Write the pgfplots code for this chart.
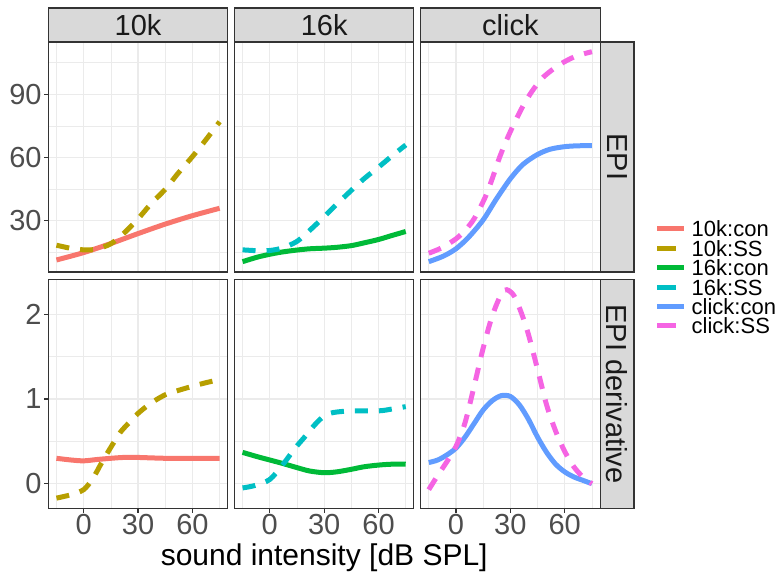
\documentclass[border=0pt]{standalone}
\usepackage{pgfplots}
\pgfplotsset{compat=1.18}
\usepackage{fontspec}
\setmainfont{Liberation Sans}
\definecolor{cA}{HTML}{F8766D}
\definecolor{cB}{HTML}{B79F00}
\definecolor{cC}{HTML}{00BA38}
\definecolor{cD}{HTML}{00BFC4}
\definecolor{cE}{HTML}{619CFF}
\definecolor{cF}{HTML}{F564E3}
\definecolor{g10}{HTML}{1A1A1A}
\definecolor{g20}{HTML}{333333}
\definecolor{g30}{HTML}{4D4D4D}
\definecolor{g85}{HTML}{D9D9D9}
\definecolor{g92}{HTML}{EBEBEB}
\pgfplotsset{
  panel/.style={scale only axis, width=179.5pt, anchor=south west,
    xmin=-19.5, xmax=79.5, xtick={0,30,60}, minor xtick={-15,15,45,75},
    grid=both, major grid style={g92, line width=1.1pt}, minor grid style={g92, line width=0.6pt},
    axis line style={g20, line width=1.1pt},
    tick style={g20, line width=1.1pt},
    tick align=outside, major tick length=4pt, minor tick length=0pt,
    tick label style={font=\fontsize{29}{29}\selectfont, text=g30},
    /pgf/number format/assume math mode=true,
    xtick pos=bottom, ytick pos=left,
    xticklabel style={inner sep=0pt, yshift=-1pt},
    yticklabel style={inner sep=0pt, xshift=-2.5pt},
    clip=true,
  },
  row1/.style={height=230pt, ymin=5.8, ymax=114.8, ytick={30,60,90}, minor ytick={15,45,75,105}},
  row2/.style={height=229.4pt, ymin=-0.295, ymax=2.413, ytick={0,1,2}, minor ytick={0.5,1.5}},
  noxlab/.style={xticklabels={}, xtick style={draw=none}},
  noylab/.style={yticklabels={}, ytick style={draw=none}},
  con/.style={line width=5pt, smooth},
  ss/.style={line width=5pt, smooth, dash pattern=on 13pt off 11pt},
}
\begin{document}
\begin{tikzpicture}
\useasboundingbox (0pt,0pt) rectangle (779pt,571pt);
% ---------------- row 1 : EPI
\begin{axis}[panel,row1,noxlab,at={(48.3pt,299pt)}]
\addplot[con,cA] coordinates {(-15,11.5) (0,15) (15,19.3) (30,24) (45,28.5) (60,32.5) (75,36)};
\addplot[ss,cB] coordinates {(-15,18.5) (-7,17) (0,16.3) (7,16.6) (15,19.2) (22,24) (30,31) (37,38) (45,45) (52,52.5) (60,60.5) (67,68) (75,77)};
\end{axis}
\begin{axis}[panel,row1,noxlab,noylab,at={(234.4pt,299pt)}]
\addplot[con,cC] coordinates {(-15,10.7) (-7,12.8) (0,14.2) (7,15.3) (15,16.2) (22,16.8) (30,17.1) (37,17.5) (45,18.3) (52,19.6) (60,21.2) (67,23) (75,25)};
\addplot[ss,cD] coordinates {(-15,16.3) (-7,15.9) (0,16) (7,17.2) (15,20.3) (22,25.5) (30,32) (37,38) (45,44.5) (52,50) (60,55.5) (67,60.5) (75,66)};
\end{axis}
\begin{axis}[panel,row1,noxlab,noylab,at={(420.6pt,299pt)}]
\addplot[con,cE] coordinates {(-15,10.7) (-7,13.3) (0,16.8) (7,22.3) (15,30.5) (22,40) (30,50) (37,56.8) (45,61.5) (52,64) (60,65.2) (67,65.6) (75,65.7)};
\addplot[ss,cF] coordinates {(-15,14.7) (-8,17.2) (0,21.5) (5,25.5) (10,31) (16,41) (20,50) (24,60) (28,68.5) (32,76) (37,84.5) (42,91.5) (48,98) (57,104) (66,108) (75,110.2)};
\end{axis}
% ---------------- row 2 : EPI derivative
\begin{axis}[panel,row2,at={(48.3pt,62.3pt)}]
\addplot[con,cA] coordinates {(-15,0.30) (-7,0.28) (0,0.27) (7,0.285) (15,0.30) (22,0.31) (30,0.31) (37,0.305) (45,0.30) (52,0.30) (60,0.30) (67,0.30) (75,0.30)};
\addplot[ss,cB] coordinates {(-15,-0.17) (-7,-0.13) (0,-0.07) (5,0.06) (10,0.25) (15,0.43) (20,0.6) (25,0.72) (30,0.83) (37,0.95) (45,1.05) (52,1.1) (60,1.15) (67,1.19) (75,1.23)};
\end{axis}
\begin{axis}[panel,row2,noylab,at={(234.4pt,62.3pt)}]
\addplot[con,cC] coordinates {(-15,0.37) (-7,0.32) (0,0.28) (7,0.24) (15,0.19) (22,0.15) (30,0.13) (37,0.14) (45,0.17) (52,0.2) (60,0.22) (67,0.23) (75,0.23)};
\addplot[ss,cD] coordinates {(-15,-0.05) (-8,-0.02) (0,0.05) (7,0.22) (14,0.42) (20,0.57) (25,0.7) (30,0.8) (35,0.84) (45,0.86) (60,0.86) (67,0.88) (75,0.91)};
\end{axis}
\begin{axis}[panel,row2,noylab,at={(420.6pt,62.3pt)}]
\addplot[con,cE] coordinates {(-15,0.25) (-10,0.28) (-5,0.34) (0,0.42) (5,0.55) (10,0.71) (15,0.87) (20,0.98) (25,1.04) (30,1.03) (35,0.93) (40,0.76) (45,0.55) (50,0.37) (55,0.23) (60,0.14) (65,0.08) (70,0.04) (75,0.0)};
\addplot[ss,cF] coordinates {(-15,-0.07) (-10,0.1) (-5,0.26) (0,0.44) (5,0.72) (10,1.15) (15,1.6) (20,1.98) (25,2.24) (28,2.29) (32,2.22) (36,2.02) (40,1.76) (45,1.35) (50,0.93) (55,0.62) (60,0.38) (65,0.2) (70,0.08) (75,0.0)};
\end{axis}
\begin{scope}[x=1pt,y=1pt]
% ---------------- strips
\begin{scope}[line width=1.1pt]
\draw[fill=g85,draw=g20] (48.3,529) rectangle (227.8,563);
\draw[fill=g85,draw=g20] (234.4,529) rectangle (413.9,563);
\draw[fill=g85,draw=g20] (420.6,529) rectangle (600.1,563);
\draw[fill=g85,draw=g20] (600.1,299) rectangle (634,529);
\draw[fill=g85,draw=g20] (600.1,62.3) rectangle (634,291.7);
\end{scope}
\begin{scope}[every node/.style={font=\fontsize{29}{29}\selectfont, text=g10, inner sep=0pt}]
\node at (138.05,546) {10k};
\node at (324.15,546) {16k};
\node at (510.35,546) {click};
\node[rotate=-90] at (617,414) {EPI};
\node[rotate=-90] at (617,177) {EPI derivative};
\end{scope}
% ---------------- axis title
\node[font=\fontsize{30}{30}\selectfont, inner sep=0pt, anchor=base] at (324.2,6) {sound intensity [dB SPL]};
% ---------------- legend
\begin{scope}[line width=5pt]
\draw[cA] (657.3,342) -- (684.3,342);
\draw[cB] (657.3,322.7) -- (676,322.7);
\draw[cC] (657.3,303) -- (684.3,303);
\draw[cD] (657.3,283.7) -- (676,283.7);
\draw[cE] (657.3,264.3) -- (684.3,264.3);
\draw[cF] (657.3,245) -- (676,245);
\end{scope}
\begin{scope}[every node/.style={font=\fontsize{22}{22}\selectfont, anchor=west, inner sep=0pt, text height=15.5pt, text depth=0pt}]
\node at (691.5,342) {10k:con};
\node at (691.5,322.7) {10k:SS};
\node at (691.5,303) {16k:con};
\node at (691.5,283.7) {16k:SS};
\node at (691.5,264.3) {click:con};
\node at (691.5,245) {click:SS};
\end{scope}
\end{scope}
\end{tikzpicture}
\end{document}
